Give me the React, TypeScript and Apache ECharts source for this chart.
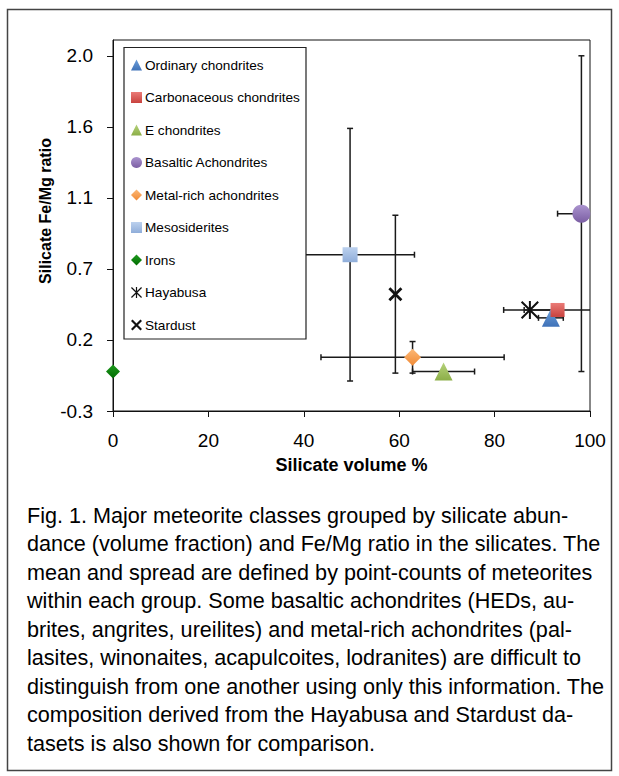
import React, { useEffect, useRef } from "react";
import * as echarts from "echarts";

const classNames = [
  "Ordinary chondrites",
  "Carbonaceous chondrites",
  "E chondrites",
  "Basaltic Achondrites",
  "Metal-rich achondrites",
  "Mesosiderites",
  "Irons",
  "Hayabusa",
  "Stardust",
];
const silicateVolume = [91.8, 93.2, 69.3, 98.2, 62.8, 49.7, 0, 87.4, 59.2];
const feMgRatio = [0.34, 0.39, 0.0, 1.0, 0.09, 0.74, 0.0, 0.39, 0.49];
const volumeSpread = [2.6, 7, 6.5, 5, 19.2, 13.5, 0, 5.5, 0];
const ratioSpread = [0, 0, 0, 1.0, 0.1, 0.8, 0, 0, 0.5];

const ASTERISK =
  "path://M0,8L8,0L100,92L92,100Z M92,0L100,8L8,100L0,92Z M44.5,0L55.5,0L55.5,100L44.5,100Z";
const CROSS = "path://M0,14L14,0L100,86L86,100Z M86,0L100,14L14,100L0,86Z";

const markerSymbols = ["triangle", "rect", "triangle", "circle", "diamond", "rect", "diamond", ASTERISK, CROSS];
const markerTop = ["#6c9ed9", "#ea7b77", "#b5d27a", "#ab94cf", "#fcb877", "#bcd1ee", "#1f9a1f", "#111111", "#111111"];
const markerBottom = ["#3f72b8", "#c8423e", "#8cae48", "#7b5ea3", "#f08a35", "#8fadd9", "#006c00", "#111111", "#111111"];
const markerSizes = [18, 14, 18, 18, 17, 15, 14, 18, 14];

const xMin = 0;
const xMax = 100;
const xInterval = 20;
const yMin = -0.25;
const yMax = 2.1;
const yTickValues = [-0.25, 0.2, 0.65, 1.1, 1.55, 2.0];
const yTickLabels = ["-0.3", "0.2", "0.7", "1.1", "1.6", "2.0"];

const xTitle = "Silicate volume %";
const yTitle = "Silicate Fe/Mg ratio";

const captionLines = [
  "Fig. 1. Major meteorite classes grouped by silicate abun-",
  "dance (volume fraction) and Fe/Mg ratio in the silicates. The",
  "mean and spread are defined by point-counts of meteorites",
  "within each group. Some basaltic achondrites (HEDs, au-",
  "brites, angrites, ureilites) and metal-rich achondrites (pal-",
  "lasites, winonaites, acapulcoites, lodranites) are difficult to",
  "distinguish from one another using only this information. The",
  "composition derived from the Hayabusa and Stardust da-",
  "tasets is also shown for comparison.",
];

const FONT = "'Liberation Sans', Arial, Helvetica, sans-serif";

export default function App() {
  const ref = useRef<HTMLDivElement>(null);

  useEffect(() => {
    if (!ref.current) return;
    const chart = echarts.init(ref.current, null, { renderer: "svg" });

    const scatterSeries = classNames.map((name, i) => ({
      name,
      type: "scatter",
      z: 3,
      symbol: markerSymbols[i],
      symbolSize: markerSizes[i],
      itemStyle: {
        color: new echarts.graphic.LinearGradient(0, 0, 0, 1, [
          { offset: 0, color: markerTop[i] },
          { offset: 1, color: markerBottom[i] },
        ]),
        opacity: 1,
      },
      data: [[silicateVolume[i], feMgRatio[i]]],
    }));

    const errorData = classNames.map((_, i) => [silicateVolume[i], feMgRatio[i], volumeSpread[i], ratioSpread[i]]);

    const errorSeries = {
      name: "spread",
      type: "custom",
      z: 2,
      clip: true,
      encode: { x: 0, y: 1 },
      data: errorData,
      renderItem: (_params: any, api: any) => {
        const x = api.value(0);
        const y = api.value(1);
        const xe = api.value(2);
        const ye = api.value(3);
        const style = { stroke: "#1a1a1a", lineWidth: 1.5 };
        const cap = 3;
        const children: any[] = [];
        if (xe > 0) {
          const a = api.coord([x - xe, y]);
          const b = api.coord([x + xe, y]);
          children.push({ type: "line", shape: { x1: a[0], y1: a[1], x2: b[0], y2: b[1] }, style });
          children.push({ type: "line", shape: { x1: a[0], y1: a[1] - cap, x2: a[0], y2: a[1] + cap }, style });
          children.push({ type: "line", shape: { x1: b[0], y1: b[1] - cap, x2: b[0], y2: b[1] + cap }, style });
        }
        if (ye > 0) {
          const a = api.coord([x, y - ye]);
          const b = api.coord([x, y + ye]);
          children.push({ type: "line", shape: { x1: a[0], y1: a[1], x2: b[0], y2: b[1] }, style });
          children.push({ type: "line", shape: { x1: a[0] - cap, y1: a[1], x2: a[0] + cap, y2: a[1] }, style });
          children.push({ type: "line", shape: { x1: b[0] - cap, y1: b[1], x2: b[0] + cap, y2: b[1] }, style });
        }
        return { type: "group", children };
      },
    };

    const option: any = {
      animation: false,
      backgroundColor: "#ffffff",
      grid: {
        left: 113,
        right: 29,
        top: 40,
        bottom: 365,
        show: true,
        borderColor: "#111",
        borderWidth: 1,
        backgroundColor: "transparent",
      },
      xAxis: {
        type: "value",
        min: xMin,
        max: xMax,
        interval: xInterval,
        name: xTitle,
        nameLocation: "middle",
        nameGap: 45,
        nameTextStyle: { fontFamily: FONT, fontWeight: "bold", fontSize: 18, color: "#000" },
        axisLine: { show: true, onZero: false, lineStyle: { color: "#111", width: 1 } },
        axisTick: { show: true, inside: false, length: 6, lineStyle: { color: "#111" } },
        axisLabel: { margin: 20, fontFamily: FONT, fontSize: 19, color: "#000" },
        splitLine: { show: false },
      },
      yAxis: {
        type: "value",
        min: yMin,
        max: yMax,
        axisLine: { show: true, onZero: false, lineStyle: { color: "#111", width: 1 } },
        axisTick: { show: true, inside: false, length: 6, customValues: yTickValues, lineStyle: { color: "#111" } },
        axisLabel: {
          margin: 20,
          fontFamily: FONT,
          fontSize: 19,
          color: "#000",
          customValues: yTickValues,
          formatter: (v: number) => {
            const idx = yTickValues.findIndex((t) => Math.abs(t - v) < 1e-6);
            return idx >= 0 ? yTickLabels[idx] : "";
          },
        },
        splitLine: { show: false },
      },
      legend: {
        orient: "vertical",
        left: 131,
        top: 56.5,
        padding: 0,
        itemWidth: 11,
        itemHeight: 11,
        itemGap: 15.5,
        z: 6,
        data: classNames,
        textStyle: { fontFamily: FONT, fontSize: 13.6, lineHeight: 17, color: "#000", padding: [0, 0, 0, -2] },
      },
      graphic: [
        {
          type: "rect",
          z: 0,
          silent: true,
          shape: { x: 7.5, y: 9.5, width: 604, height: 761 },
          style: { fill: "none", stroke: "#444", lineWidth: 1.5 },
        },
        {
          type: "rect",
          z: 5,
          silent: true,
          shape: { x: 124, y: 47.5, width: 182, height: 291.5 },
          style: { fill: "#ffffff", stroke: "#222", lineWidth: 1.2 },
        },
        {
          type: "text",
          z: 5,
          x: 45,
          y: 211,
          rotation: Math.PI / 2,
          style: {
            text: yTitle,
            fontFamily: FONT,
            fontWeight: "bold",
            fontSize: 16,
            fill: "#000",
            align: "center",
            verticalAlign: "middle",
          },
        },
        {
          type: "text",
          z: 5,
          x: 27,
          y: 501,
          style: {
            text: captionLines.join("\n"),
            fontFamily: FONT,
            fontSize: 21.6,
            lineHeight: 28.5,
            fill: "#000",
            align: "left",
            verticalAlign: "top",
          },
        },
      ],
      series: [errorSeries, ...scatterSeries],
    };

    chart.setOption(option);
    return () => chart.dispose();
  }, []);

  return (
    <div
      ref={ref}
      style={{ position: "absolute", left: 0, top: 0, width: 619, height: 776 }}
    />
  );
}
